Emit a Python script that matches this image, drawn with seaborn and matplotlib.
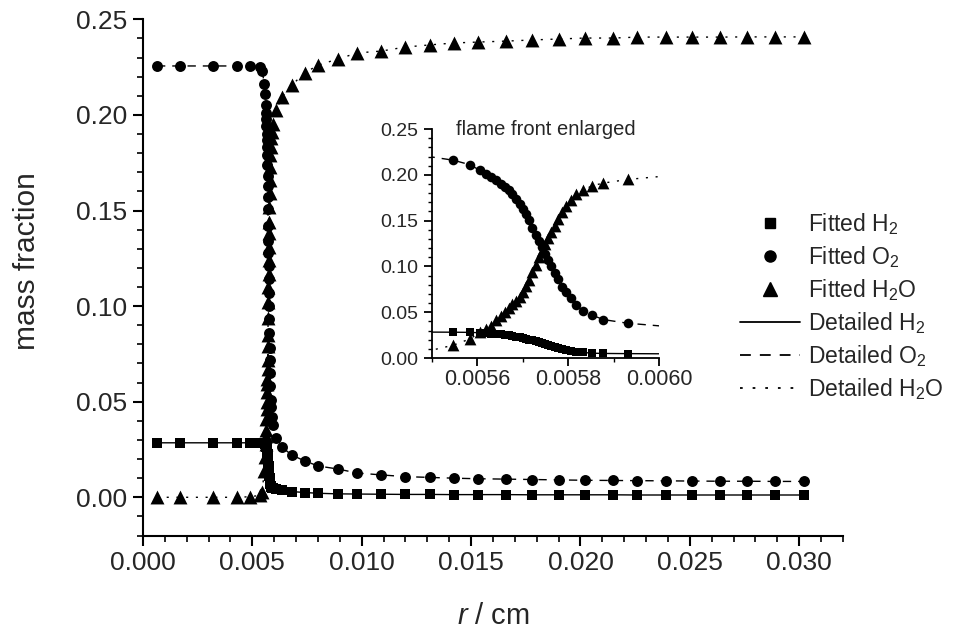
import numpy as np
import matplotlib
matplotlib.use("Agg")
import matplotlib.pyplot as plt
from matplotlib.lines import Line2D
from matplotlib.ticker import MultipleLocator, FormatStrFormatter
import seaborn as sns

# radial position (cm), shared by all species
r_cm = [
    0.00064, 0.00169, 0.00320, 0.00430, 0.00490, 0.00534, 0.00545,
    0.005547, 0.005584, 0.005605, 0.005618, 0.005630, 0.005641, 0.005651, 0.005660, 0.005669, 0.005677,
    0.005685, 0.005693, 0.005700, 0.005707, 0.005714, 0.005721, 0.005728, 0.005735, 0.005742, 0.005749,
    0.005756, 0.005763, 0.005770, 0.005778, 0.005787, 0.005796, 0.005806, 0.005818, 0.005833, 0.005852,
    0.005877, 0.005931,
    0.00610, 0.00635, 0.00680, 0.00740, 0.00800, 0.00890, 0.00980, 0.01090, 0.01200, 0.01310,
    0.01420, 0.01530, 0.01660, 0.01780, 0.01900, 0.02020, 0.02150, 0.02260, 0.02390, 0.02510,
    0.02640, 0.02760, 0.02890, 0.03020,
]

y_o2 = [
    0.2256, 0.2256, 0.2256, 0.2256, 0.2256, 0.2252, 0.2232,
    0.216, 0.211, 0.205, 0.201, 0.198, 0.194, 0.190, 0.187, 0.183, 0.179,
    0.174, 0.168, 0.163, 0.157, 0.151, 0.142, 0.134, 0.128, 0.121, 0.114,
    0.107, 0.100, 0.093, 0.086, 0.078, 0.072, 0.065, 0.058, 0.051, 0.047,
    0.042, 0.038,
    0.0310, 0.0263, 0.0221, 0.0190, 0.0164, 0.0148, 0.0127, 0.0117, 0.0108, 0.0104,
    0.0100, 0.0097, 0.0095, 0.0093, 0.0091, 0.0089, 0.0088, 0.0087, 0.0086, 0.0085,
    0.0084, 0.0084, 0.0083, 0.0083,
]

y_h2o = [
    0.0, 0.0, 0.0, 0.0, 0.0003, 0.0010, 0.0030,
    0.014, 0.021, 0.028, 0.032, 0.035, 0.041, 0.046, 0.050, 0.055, 0.059,
    0.062, 0.067, 0.072, 0.079, 0.085, 0.094, 0.102, 0.110, 0.117, 0.124,
    0.131, 0.138, 0.144, 0.152, 0.159, 0.166, 0.173, 0.179, 0.183, 0.188,
    0.191, 0.195,
    0.2026, 0.2094, 0.2156, 0.2220, 0.2260, 0.2292, 0.2324, 0.2334, 0.2355, 0.2366,
    0.2376, 0.2381, 0.2386, 0.2392, 0.2397, 0.2402, 0.2402, 0.2407, 0.2407, 0.2407,
    0.2407, 0.2408, 0.2408, 0.2408,
]

y_h2 = [
    0.0285, 0.0285, 0.0285, 0.0285, 0.0285, 0.0285, 0.0284,
    0.0282, 0.0280, 0.0276, 0.0271, 0.0267, 0.0262, 0.0257, 0.0252, 0.0246, 0.0240,
    0.0233, 0.0226, 0.0218, 0.0210, 0.0202, 0.0193, 0.0184, 0.0174, 0.0164, 0.0154,
    0.0144, 0.0134, 0.0124, 0.0113, 0.0102, 0.0092, 0.0082, 0.0071, 0.0061, 0.0053,
    0.0050, 0.0048,
    0.0044, 0.0038, 0.0030, 0.0025, 0.0021, 0.0018, 0.0017, 0.0016, 0.0015, 0.0015,
    0.0014, 0.0014, 0.0014, 0.0013, 0.0013, 0.0013, 0.0013, 0.0012, 0.0012, 0.0012,
    0.0012, 0.0012, 0.0012, 0.0012,
]

legend_labels = ["Fitted H$_2$", "Fitted O$_2$", "Fitted H$_2$O",
                 "Detailed H$_2$", "Detailed O$_2$", "Detailed H$_2$O"]

sns.set_style("ticks")
plt.rcParams["font.family"] = ["Liberation Sans", "DejaVu Sans"]
plt.rcParams["mathtext.fontset"] = "custom"
plt.rcParams["mathtext.rm"] = "Liberation Sans"
plt.rcParams["mathtext.it"] = "Liberation Sans:italic"
plt.rcParams["mathtext.default"] = "regular"

DASHED = (0, (6, 5))
DOTTED = (0, (1.5, 5.5))


def draw_profiles(ax, sq, ci, tr, lw):
    sns.lineplot(x=r_cm, y=y_h2, ax=ax, color="black", lw=lw, linestyle="-", estimator=None, sort=False)
    sns.lineplot(x=r_cm, y=y_o2, ax=ax, color="black", lw=lw, linestyle=DASHED, estimator=None, sort=False)
    sns.lineplot(x=r_cm, y=y_h2o, ax=ax, color="black", lw=lw, linestyle=DOTTED, estimator=None, sort=False)
    sns.scatterplot(x=r_cm, y=y_h2, ax=ax, color="black", marker="s", s=sq, linewidth=0, zorder=3)
    sns.scatterplot(x=r_cm, y=y_o2, ax=ax, color="black", marker="o", s=ci, linewidth=0, zorder=3)
    sns.scatterplot(x=r_cm, y=y_h2o, ax=ax, color="black", marker="^", s=tr, linewidth=0, zorder=3)


def style_axes(ax, lw):
    sns.despine(ax=ax)
    for side in ["left", "bottom"]:
        ax.spines[side].set_linewidth(lw)
        ax.spines[side].set_color("black")


fig = plt.figure(figsize=(9.55, 6.29), dpi=100)

# main panel
ax = fig.add_axes([0.1497, 0.1486, 0.733, 0.8207])
draw_profiles(ax, sq=45, ci=62, tr=100, lw=1.0)
ax.set_xlim(0, 0.032)
ax.set_ylim(-0.02, 0.25)
ax.xaxis.set_major_locator(MultipleLocator(0.005))
ax.xaxis.set_minor_locator(MultipleLocator(0.001))
ax.yaxis.set_major_locator(MultipleLocator(0.05))
ax.yaxis.set_minor_locator(MultipleLocator(0.01))
ax.xaxis.set_major_formatter(FormatStrFormatter("%.3f"))
ax.yaxis.set_major_formatter(FormatStrFormatter("%.2f"))
ax.tick_params(which="major", direction="out", length=7.5, width=1.5, color="black")
ax.tick_params(which="minor", direction="out", length=4, width=1.2, color="black")
ax.tick_params(axis="x", which="major", labelsize=19, pad=3.5)
ax.tick_params(axis="y", which="major", labelsize=19, pad=4)
style_axes(ax, 1.5)
ax.set_xlabel("$\\mathit{r}$ / cm", fontsize=21, labelpad=19.5)
ax.set_ylabel("mass fraction", fontsize=21.5, labelpad=25)
ax.yaxis.label.set_y(0.532)

# inset: flame front
ax_in = fig.add_axes([0.4524, 0.4308, 0.2377, 0.364])
draw_profiles(ax_in, sq=30, ci=48, tr=72, lw=1.0)
ax_in.set_xlim(0.0055, 0.0060)
ax_in.set_ylim(0, 0.25)
ax_in.xaxis.set_major_locator(MultipleLocator(0.0002))
ax_in.xaxis.set_minor_locator(MultipleLocator(0.0001))
ax_in.yaxis.set_major_locator(MultipleLocator(0.05))
ax_in.yaxis.set_minor_locator(MultipleLocator(0.01))
ax_in.xaxis.set_major_formatter(FormatStrFormatter("%.4f"))
ax_in.yaxis.set_major_formatter(FormatStrFormatter("%.2f"))
ax_in.tick_params(which="major", direction="out", length=6, width=1.3, color="black")
ax_in.tick_params(which="minor", direction="out", length=3, width=1.0, color="black")
ax_in.tick_params(axis="x", which="major", labelsize=15.5, pad=2)
ax_in.tick_params(axis="y", which="major", labelsize=14, pad=4)
style_axes(ax_in, 1.3)
ax_in.set_xlabel("")
ax_in.set_ylabel("")
ax_in.text(0.5, 1.0, "flame front enlarged", transform=ax_in.transAxes,
           ha="center", va="center", fontsize=14.5)

handles = [
    Line2D([], [], color="black", marker="s", linestyle="none", markersize=7),
    Line2D([], [], color="black", marker="o", linestyle="none", markersize=8),
    Line2D([], [], color="black", marker="^", linestyle="none", markersize=9.5),
    Line2D([], [], color="black", linestyle="-", lw=1.3),
    Line2D([], [], color="black", linestyle=DASHED, lw=1.3),
    Line2D([], [], color="black", linestyle=DOTTED, lw=1.3),
]
fig.legend(handles, legend_labels, loc="upper left", bbox_to_anchor=(740 / 955, 1 - 211 / 629),
           frameon=False, fontsize=16.5, handlelength=2.6, handletextpad=0.35,
           labelspacing=0.31, borderpad=0, borderaxespad=0)

fig.savefig("out.png", dpi=100)
plt.close(fig)
